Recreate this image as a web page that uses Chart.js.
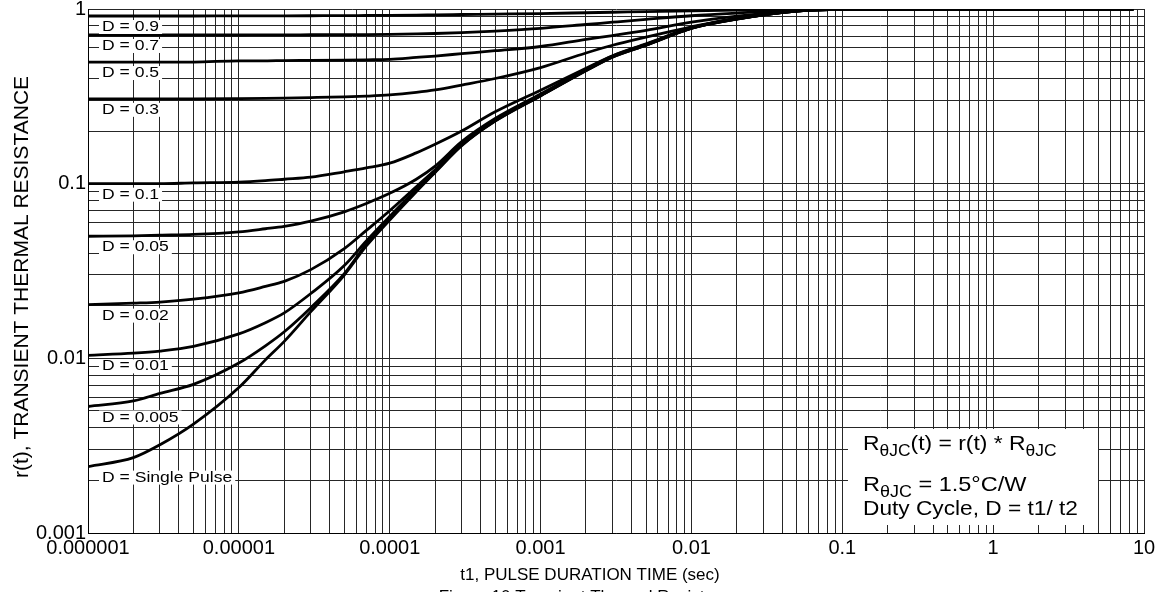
<!DOCTYPE html>
<html>
<head>
<meta charset="utf-8">
<script src="https://cdn.jsdelivr.net/npm/chart.js@4.4.1/dist/chart.umd.min.js"></script>
<style>
  html, body { margin: 0; padding: 0; background: #fff; }
  #wrap { width: 1159px; height: 592px; }
</style>
</head>
<body>
<div id="wrap"><canvas id="thermalChart" width="1159" height="592"></canvas></div>
<script>
const times = [1e-6, 2e-6, 3e-6, 5e-6, 1e-5, 1.5e-5, 2e-5, 3e-5, 5e-5, 7e-5, 1e-4, 1.5e-4, 2e-4,
  3e-4, 5e-4, 1e-3, 2e-3, 3e-3, 5e-3, 0.01, 0.02, 0.05, 0.1, 1, 8.5];

// r(t) for each duty cycle
const d09 = [0.912, 0.912, 0.912, 0.912, 0.913, 0.913, 0.914, 0.915, 0.916, 0.918, 0.92, 0.923, 0.926,
  0.93, 0.935, 0.942, 0.952, 0.958, 0.966, 0.976, 0.985, 0.994, 0.999, 1, 1];
const d07 = [0.71, 0.71, 0.71, 0.71, 0.71, 0.711, 0.711, 0.712, 0.713, 0.714, 0.716, 0.72, 0.724,
  0.733, 0.748, 0.775, 0.815, 0.84, 0.872, 0.915, 0.948, 0.985, 0.998, 1, 1];
const d05 = [0.497, 0.497, 0.497, 0.497, 0.505, 0.505, 0.507, 0.508, 0.51, 0.512, 0.515, 0.528, 0.538,
  0.555, 0.577, 0.61, 0.67, 0.705, 0.755, 0.84, 0.91, 0.98, 0.997, 1, 1];
const d03 = [0.306, 0.306, 0.306, 0.306, 0.307, 0.308, 0.309, 0.311, 0.314, 0.317, 0.322, 0.333, 0.344,
  0.367, 0.4, 0.462, 0.56, 0.62, 0.69, 0.79, 0.888, 0.978, 0.997, 1, 1];
const d01 = [0.1, 0.1, 0.1, 0.101, 0.102, 0.104, 0.106, 0.109, 0.117, 0.123, 0.131, 0.15, 0.168,
  0.2, 0.258, 0.343, 0.458, 0.54, 0.632, 0.782, 0.881, 0.976, 0.996, 1, 1];
const d005 = [0.05, 0.0503, 0.0507, 0.0512, 0.053, 0.0552, 0.057, 0.061, 0.069, 0.077, 0.088, 0.106, 0.126,
  0.174, 0.236, 0.326, 0.452, 0.538, 0.628, 0.78, 0.879, 0.975, 0.996, 1, 1];
const d002 = [0.0203, 0.0207, 0.021, 0.0218, 0.0237, 0.0258, 0.0276, 0.0322, 0.0425, 0.054, 0.07, 0.096, 0.12,
  0.169, 0.232, 0.322, 0.448, 0.535, 0.625, 0.778, 0.878, 0.974, 0.995, 1, 1];
const d001 = [0.0104, 0.0107, 0.011, 0.0117, 0.0138, 0.016, 0.0182, 0.0235, 0.034, 0.047, 0.065, 0.093, 0.118,
  0.167, 0.23, 0.32, 0.446, 0.533, 0.623, 0.777, 0.877, 0.973, 0.995, 1, 1];
const d0005 = [0.0053, 0.0057, 0.0063, 0.0071, 0.0094, 0.0118, 0.0142, 0.0195, 0.0305, 0.045, 0.063, 0.091, 0.117,
  0.166, 0.229, 0.319, 0.444, 0.531, 0.621, 0.776, 0.876, 0.973, 0.995, 1, 1];
const single = [0.0024, 0.0027, 0.0032, 0.0042, 0.0068, 0.0098, 0.0125, 0.0185, 0.03, 0.044, 0.062, 0.09, 0.116,
  0.165, 0.228, 0.318, 0.443, 0.53, 0.62, 0.775, 0.875, 0.972, 0.995, 1, 1];

const seriesNames = ['D = 0.9', 'D = 0.7', 'D = 0.5', 'D = 0.3', 'D = 0.1', 'D = 0.05',
  'D = 0.02', 'D = 0.01', 'D = 0.005', 'D = Single Pulse'];
const seriesValues = [d09, d07, d05, d03, d01, d005, d002, d001, d0005, single];

// axis decades and their labels
const xMajor = [1e-6, 1e-5, 1e-4, 1e-3, 0.01, 0.1, 1, 10];
const xTickLabels = ['0.000001', '0.00001', '0.0001', '0.001', '0.01', '0.1', '1', '10'];
const yMajor = [0.001, 0.01, 0.1, 1];
const yTickLabels = ['0.001', '0.01', '0.1', '1'];

const FONT = '"Liberation Sans", Arial, Helvetica, sans-serif';

// 1..9 gridlines inside every decade
function decadeGrid(majors) {
  const out = [];
  for (let i = 0; i < majors.length - 1; i++) {
    for (let m = 1; m <= 9; m++) out.push(majors[i] * m);
  }
  out.push(majors[majors.length - 1]);
  return out;
}
const xGrid = decadeGrid(xMajor);
const yGrid = decadeGrid(yMajor);

function labelFor(v, majors, labels) {
  const i = majors.findIndex(m => Math.abs(v / m - 1) < 1e-6);
  return i < 0 ? '' : labels[i];
}

// the original lettering is a bit wider than Arial, so stretch it sideways
function drawRuns(ctx, x, y, runs, size, subSize, sx) {
  ctx.save();
  ctx.translate(x, y);
  ctx.scale(sx, 1);
  let cx = 0;
  runs.forEach(r => {
    ctx.font = (r.sub ? subSize : size) + 'px ' + FONT;
    ctx.fillText(r.t, cx, r.sub ? 6 : 0);
    cx += ctx.measureText(r.t).width;
  });
  ctx.restore();
}

const annotations = {
  id: 'annotations',
  afterDatasetsDraw(chart) {
    const { ctx, scales: { x, y } } = chart;
    ctx.save();
    ctx.fillStyle = '#000';
    ctx.textAlign = 'left';

    // curve labels, just under the start of each curve
    ctx.textBaseline = 'middle';
    ctx.font = '15px ' + FONT;
    seriesNames.forEach((name, i) => {
      const ly = y.getPixelForValue(seriesValues[i][0]) + 11;
      const lx = x.left + 14;
      const w = ctx.measureText(name).width * 1.17;
      ctx.fillStyle = '#fff';
      ctx.fillRect(lx - 3, ly - 7, w + 6, 14);
      ctx.fillStyle = '#000';
      drawRuns(ctx, lx, ly, [{ t: name }], 15, 15, 1.17);
    });

    // formula box
    ctx.fillStyle = '#fff';
    ctx.fillRect(848, 429, 250, 96);
    ctx.fillStyle = '#000';
    ctx.textBaseline = 'alphabetic';
    drawRuns(ctx, 863, 450, [
      { t: 'R' }, { t: 'θJC', sub: true }, { t: '(t) = r(t) * R' }, { t: 'θJC', sub: true }
    ], 21, 16, 1.09);
    drawRuns(ctx, 863, 491, [
      { t: 'R' }, { t: 'θJC', sub: true }, { t: ' = 1.5°C/W' }
    ], 21, 16, 1.12);
    drawRuns(ctx, 863, 515, [{ t: 'Duty Cycle, D = t1/ t2' }], 21, 16, 1.08);

    // axis titles and caption
    ctx.textAlign = 'center';
    ctx.textBaseline = 'middle';
    ctx.font = '17px ' + FONT;
    ctx.fillText('t1, PULSE DURATION TIME (sec)', 590, 575);
    ctx.textBaseline = 'alphabetic';
    ctx.fillText('Figure 10 Transient Thermal Resistance', 590, 602);

    ctx.translate(22, 277);
    ctx.rotate(-Math.PI / 2);
    ctx.textBaseline = 'middle';
    ctx.font = '21px ' + FONT;
    ctx.fillText('r(t), TRANSIENT THERMAL RESISTANCE', 0, 0);
    ctx.restore();
  }
};

const ctx = document.getElementById('thermalChart').getContext('2d');
new Chart(ctx, {
  type: 'line',
  data: {
    datasets: seriesValues.map((vals, i) => ({
      label: seriesNames[i],
      data: times.map((t, j) => ({ x: t, y: vals[j] })),
      borderColor: '#000',
      borderWidth: 2.8,
      pointRadius: 0,
      fill: false,
      cubicInterpolationMode: 'monotone'
    }))
  },
  options: {
    responsive: false,
    animation: false,
    devicePixelRatio: 1,
    layout: { padding: { left: 0, right: 15, top: 9, bottom: 0 } },
    plugins: { legend: { display: false }, tooltip: { enabled: false } },
    scales: {
      x: {
        type: 'logarithmic',
        min: 1e-6,
        max: 10,
        afterBuildTicks: s => { s.ticks = xGrid.map(v => ({ value: v })); },
        afterFit: s => { s.height = 59; s.paddingLeft = 0; s.paddingRight = 0; },
        grid: { color: '#262626', lineWidth: 1, drawTicks: false },
        border: { color: '#000', width: 1 },
        ticks: {
          autoSkip: false, maxRotation: 0, minRotation: 0, padding: 3, color: '#000',
          font: { family: FONT, size: 20 },
          callback: v => labelFor(v, xMajor, xTickLabels)
        }
      },
      y: {
        type: 'logarithmic',
        min: 0.001,
        max: 1,
        afterBuildTicks: s => { s.ticks = yGrid.map(v => ({ value: v })); },
        afterFit: s => { s.width = 88; s.paddingTop = 0; s.paddingBottom = 0; },
        grid: { color: '#262626', lineWidth: 1, drawTicks: false },
        border: { color: '#000', width: 1 },
        ticks: {
          autoSkip: false, padding: 2, color: '#000',
          font: { family: FONT, size: 20 },
          callback: v => labelFor(v, yMajor, yTickLabels)
        }
      }
    }
  },
  plugins: [annotations]
});
</script>
</body>
</html>
